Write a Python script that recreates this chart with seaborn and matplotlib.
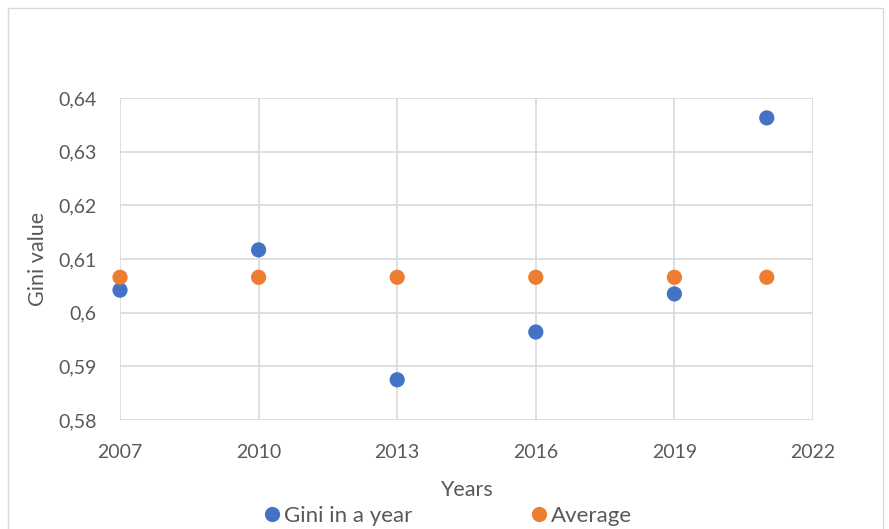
import matplotlib
matplotlib.use("Agg")
import matplotlib.pyplot as plt
import matplotlib.ticker as mticker
from matplotlib.patches import Rectangle
import seaborn as sns
import pandas as pd

years = [2007, 2010, 2013, 2016, 2019, 2021]
gini_in_year = [0.6042, 0.6117, 0.5875, 0.5964, 0.6035, 0.6363]
average = [0.6066, 0.6066, 0.6066, 0.6066, 0.6066, 0.6066]
series_names = ["Gini in a year", "Average"]
colors = ["#4472C4", "#ED7D31"]

df = pd.concat([
    pd.DataFrame({"Year": years, "Gini": gini_in_year, "Series": series_names[0]}),
    pd.DataFrame({"Year": years, "Gini": average, "Series": series_names[1]}),
])

sns.set_theme(style="white")
plt.rcParams["font.family"] = ["Lato", "DejaVu Sans"]

fig = plt.figure(figsize=(8.89, 5.29), dpi=100)
ax = fig.add_axes([0.135, 0.206, 0.7795, 0.6087])

# outer chart frame
fig.patches.append(Rectangle((8 / 889, -0.1), 875 / 889, 1.1 - 8 / 529,
                             transform=fig.transFigure, fill=False,
                             edgecolor="#d9d9d9", linewidth=1.0))

sns.scatterplot(data=df, x="Year", y="Gini", hue="Series",
                palette=dict(zip(series_names, colors)),
                s=120, linewidth=0, ax=ax, zorder=3, clip_on=False)

ax.set_xlim(2007, 2022)
ax.set_ylim(0.58, 0.64)
ax.set_xticks([2007, 2010, 2013, 2016, 2019, 2022])
ax.set_yticks([0.58, 0.59, 0.60, 0.61, 0.62, 0.63, 0.64])
ax.yaxis.set_major_formatter(mticker.FuncFormatter(
    lambda v, p: f"{v:.2f}".rstrip("0").replace(".", ",")))

ax.grid(True, color="#d9d9d9", linewidth=1.2)
ax.set_axisbelow(True)
for sp in ax.spines.values():
    sp.set_visible(False)
ax.tick_params(axis="both", length=0, labelsize=14, colors="#595959")
ax.tick_params(axis="x", pad=17)
ax.tick_params(axis="y", pad=17)

ax.set_xlabel("Years", fontsize=15.5, color="#595959", labelpad=14)
ax.set_ylabel("Gini value", fontsize=15.5, color="#595959", labelpad=7)

leg = ax.legend(loc="upper center", bbox_to_anchor=(0.468, -0.24), ncol=2,
                frameon=False, fontsize=16, handletextpad=-0.15,
                handlelength=1.4, columnspacing=5.0, borderaxespad=0)
for t in leg.get_texts():
    t.set_color("#595959")

fig.savefig("out.png", dpi=100)
